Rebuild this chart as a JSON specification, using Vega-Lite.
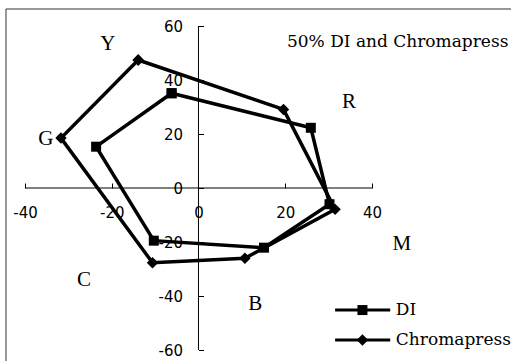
{
  "$schema": "https://vega.github.io/schema/vega-lite/v6.json",
  "width": 511,
  "height": 361,
  "autosize": {"type": "none"},
  "padding": 0,
  "background": "white",
  "config": {"view": {"stroke": null}},
  "datasets": {
    "series": [
      {"series": "Chromapress", "vertex": "Y", "order": 1, "x": -13.9, "y": 47.4},
      {"series": "Chromapress", "vertex": "R", "order": 2, "x": 19.6, "y": 29.1},
      {"series": "Chromapress", "vertex": "M", "order": 3, "x": 31.5, "y": -7.9},
      {"series": "Chromapress", "vertex": "B", "order": 4, "x": 10.7, "y": -26.0},
      {"series": "Chromapress", "vertex": "C", "order": 5, "x": -10.6, "y": -27.7},
      {"series": "Chromapress", "vertex": "G", "order": 6, "x": -31.7, "y": 18.5},
      {"series": "Chromapress", "vertex": "Y", "order": 7, "x": -13.9, "y": 47.4},
      {"series": "DI", "vertex": "Y", "order": 1, "x": -6.2, "y": 35.1},
      {"series": "DI", "vertex": "R", "order": 2, "x": 25.9, "y": 22.3},
      {"series": "DI", "vertex": "M", "order": 3, "x": 30.2, "y": -6.0},
      {"series": "DI", "vertex": "B", "order": 4, "x": 15.1, "y": -22.1},
      {"series": "DI", "vertex": "C", "order": 5, "x": -10.3, "y": -19.5},
      {"series": "DI", "vertex": "G", "order": 6, "x": -23.6, "y": 15.3},
      {"series": "DI", "vertex": "Y", "order": 7, "x": -6.2, "y": 35.1}
    ],
    "vertexLabels": [
      {"label": "Y", "x": -20.9, "y": 53.5},
      {"label": "G", "x": -35.2, "y": 18.1},
      {"label": "C", "x": -26.4, "y": -34.1},
      {"label": "B", "x": 13.1, "y": -42.9},
      {"label": "M", "x": 46.9, "y": -20.7},
      {"label": "R", "x": 34.7, "y": 31.9}
    ],
    "axisLines": [
      {"x": -40, "x2": 40, "y": 0, "y2": 0},
      {"x": 0, "x2": 0, "y": -60, "y2": 60}
    ],
    "frame": [
      {"x": -44.38, "x2": -44.38, "y": -64.07, "y2": 66.3},
      {"x": -44.38, "x2": 72.05, "y": 66.3, "y2": 66.3}
    ],
    "title": [
      {"text": "50% DI and Chromapress", "x": 20.4, "y": 54.1}
    ],
    "legendLines": [
      {"series": "DI", "x": 31.5, "x2": 44.2, "y": -45.2, "y2": -45.2},
      {"series": "Chromapress", "x": 31.5, "x2": 44.2, "y": -56.3, "y2": -56.3}
    ],
    "legendItems": [
      {"series": "DI", "x": 37.8, "y": -45.2, "tx": 45.5},
      {"series": "Chromapress", "x": 37.8, "y": -56.3, "tx": 45.5}
    ]
  },
  "encoding": {
    "x": {
      "field": "x",
      "type": "quantitative",
      "scale": {"domain": [-45.76, 72.05], "nice": false, "zero": false},
      "axis": {
        "title": null,
        "values": [-40, -20, 0, 20, 40],
        "labelExpr": "'' + datum.value",
        "offset": -173,
        "domain": false,
        "grid": false,
        "tickSize": -5,
        "tickColor": "black",
        "labelFont": "DejaVu Sans",
        "labelFontSize": 15,
        "labelColor": "black",
        "labelPadding": 22,
        "labelFlush": false,
        "labelOverlap": false
      }
    },
    "y": {
      "field": "y",
      "type": "quantitative",
      "scale": {"domain": [-64.07, 69.63], "nice": false, "zero": false},
      "axis": {
        "title": null,
        "values": [-60, -40, -20, 0, 20, 40, 60],
        "labelExpr": "'' + datum.value",
        "offset": -198.5,
        "domain": false,
        "grid": false,
        "tickSize": -5,
        "tickColor": "black",
        "labelFont": "DejaVu Sans",
        "labelFontSize": 15,
        "labelColor": "black",
        "labelPadding": 21,
        "labelFlush": false,
        "labelOverlap": false
      }
    }
  },
  "layer": [
    {
      "data": {"name": "frame"},
      "mark": {"type": "rule", "color": "#333333", "strokeWidth": 1},
      "encoding": {"x2": {"field": "x2"}, "y2": {"field": "y2"}}
    },
    {
      "data": {"name": "axisLines"},
      "mark": {"type": "rule", "color": "black", "strokeWidth": 1},
      "encoding": {"x2": {"field": "x2"}, "y2": {"field": "y2"}}
    },
    {
      "data": {"name": "series"},
      "mark": {"type": "line", "color": "black", "strokeWidth": 3.5, "strokeJoin": "miter"},
      "encoding": {
        "detail": {"field": "series"},
        "order": {"field": "order", "type": "quantitative"}
      }
    },
    {
      "data": {"name": "series"},
      "mark": {"type": "point", "filled": true, "color": "black", "opacity": 1},
      "encoding": {
        "shape": {
          "field": "series",
          "type": "nominal",
          "scale": {"domain": ["DI", "Chromapress"], "range": ["square", "diamond"]},
          "legend": null
        },
        "size": {
          "field": "series",
          "type": "nominal",
          "scale": {"domain": ["DI", "Chromapress"], "range": [100, 130]},
          "legend": null
        }
      }
    },
    {
      "data": {"name": "vertexLabels"},
      "mark": {"type": "text", "font": "Liberation Serif", "fontSize": 21, "color": "black", "align": "center", "baseline": "middle"},
      "encoding": {"text": {"field": "label"}}
    },
    {
      "data": {"name": "title"},
      "mark": {"type": "text", "font": "DejaVu Serif", "fontSize": 17, "color": "black", "align": "left", "baseline": "middle"},
      "encoding": {"text": {"field": "text"}}
    },
    {
      "data": {"name": "legendLines"},
      "mark": {"type": "rule", "color": "black", "strokeWidth": 3},
      "encoding": {"x2": {"field": "x2"}, "y2": {"field": "y2"}}
    },
    {
      "data": {"name": "legendItems"},
      "mark": {"type": "point", "filled": true, "color": "black", "opacity": 1},
      "encoding": {
        "shape": {
          "field": "series",
          "type": "nominal",
          "scale": {"domain": ["DI", "Chromapress"], "range": ["square", "diamond"]},
          "legend": null
        },
        "size": {
          "field": "series",
          "type": "nominal",
          "scale": {"domain": ["DI", "Chromapress"], "range": [100, 130]},
          "legend": null
        }
      }
    },
    {
      "data": {"name": "legendItems"},
      "mark": {"type": "text", "font": "DejaVu Serif", "fontSize": 17, "color": "black", "align": "left", "baseline": "middle"},
      "encoding": {"x": {"field": "tx", "type": "quantitative"}, "text": {"field": "series"}}
    }
  ]
}
